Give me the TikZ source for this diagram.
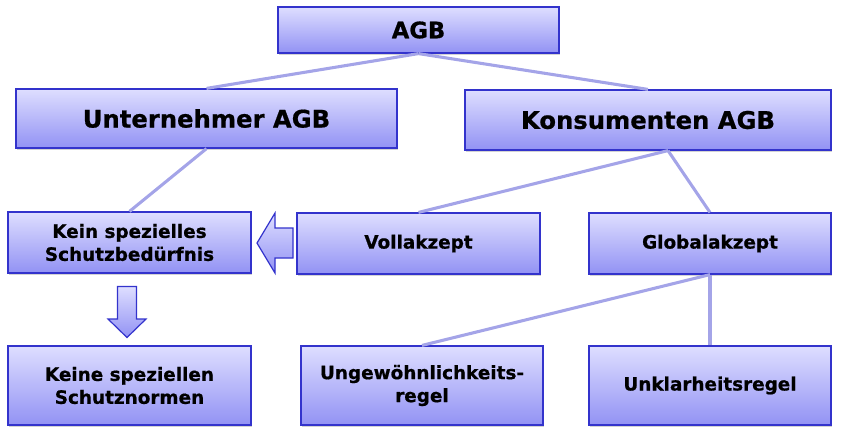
\documentclass[tikz,border=0pt]{standalone}
\usepackage{fontspec}
\setmainfont{DejaVu Sans}[BoldFeatures={FakeBold=0.7}]
\usetikzlibrary{calc, shadows}
\definecolor{boxtop}{RGB}{222,222,255}
\definecolor{boxbot}{RGB}{146,146,244}
\definecolor{boxline}{RGB}{51,51,204}
\definecolor{linkcol}{RGB}{164,164,232}

\begin{document}
\begin{tikzpicture}[x=0.75pt, y=-0.75pt,
    box/.style={draw=boxline, line width=0.9pt, top color=boxtop, bottom color=boxbot,
      align=center, font=\bfseries\fontsize{13.8}{17.2}\selectfont, inner sep=0pt,
      drop shadow={shadow xshift=1pt, shadow yshift=-1.5pt, opacity=0.35}},
    bigbox/.style={box, font=\bfseries\fontsize{18.2}{22}\selectfont},
    link/.style={draw=linkcol, line width=2.3pt},
    blockarrow/.style={draw=boxline, line width=0.9pt, top color=boxtop, bottom color=boxbot}]
        \useasboundingbox (0,0) rectangle (844,437);
        % top level
        \node[bigbox, minimum width=210.75pt, minimum height=34.5pt,
          font=\bfseries\fontsize{17}{20}\selectfont] (agb) at (418.5,30) {AGB};
        \node[bigbox, minimum width=285.75pt, minimum height=44.25pt] (unt) at (206.5,118.5) {Unternehmer AGB};
        \node[bigbox, minimum width=274.5pt, minimum height=45pt] (kon) at (648,120) {Konsumenten AGB};
        % middle row
        \node[box, minimum width=182.25pt, minimum height=45.75pt] (kein) at (129.5,242.5) {Kein spezielles\\Schutzbedürfnis};
        \node[box, minimum width=182.25pt, minimum height=45.75pt] (voll) at (418.5,243.5) {Vollakzept};
        \node[box, minimum width=181.5pt, minimum height=45.75pt] (glob) at (710,243.5) {Globalakzept};
        % bottom row
        \node[box, minimum width=182.25pt, minimum height=59.25pt] (keine) at (129.5,385.5) {Keine speziellen\\Schutznormen};
        \node[box, minimum width=181.5pt, minimum height=59.25pt] (ungew) at (422,385.5) {Ungewöhnlichkeits-\\regel};
        \node[box, minimum width=181.5pt, minimum height=59.25pt] (unkl) at (710,385.5) {Unklarheitsregel};
        % connectors
        \coordinate (konfoot) at ([xshift=15pt]kon.south);
        \draw[link] (agb.south) -- (unt.north);
        \draw[link] (agb.south) -- (kon.north);
        \draw[link] (unt.south) -- (kein.north);
        \draw[link] (konfoot) -- (voll.north);
        \draw[link] (konfoot) -- (glob.north);
        \draw[link] (glob.south) -- (ungew.north);
        \draw[link] (glob.south) -- (unkl.north);
        % block arrows
        \draw[blockarrow] (257,243) -- (275,213) -- (275,228) -- (293,228)
          -- (293,258) -- (275,258) -- (275,273) -- cycle;
        \draw[blockarrow] (117.5,286.5) -- (136.5,286.5) -- (136.5,319) -- (146,319)
          -- (127,337.5) -- (108,319) -- (117.5,319) -- cycle;
\end{tikzpicture}
\end{document}
